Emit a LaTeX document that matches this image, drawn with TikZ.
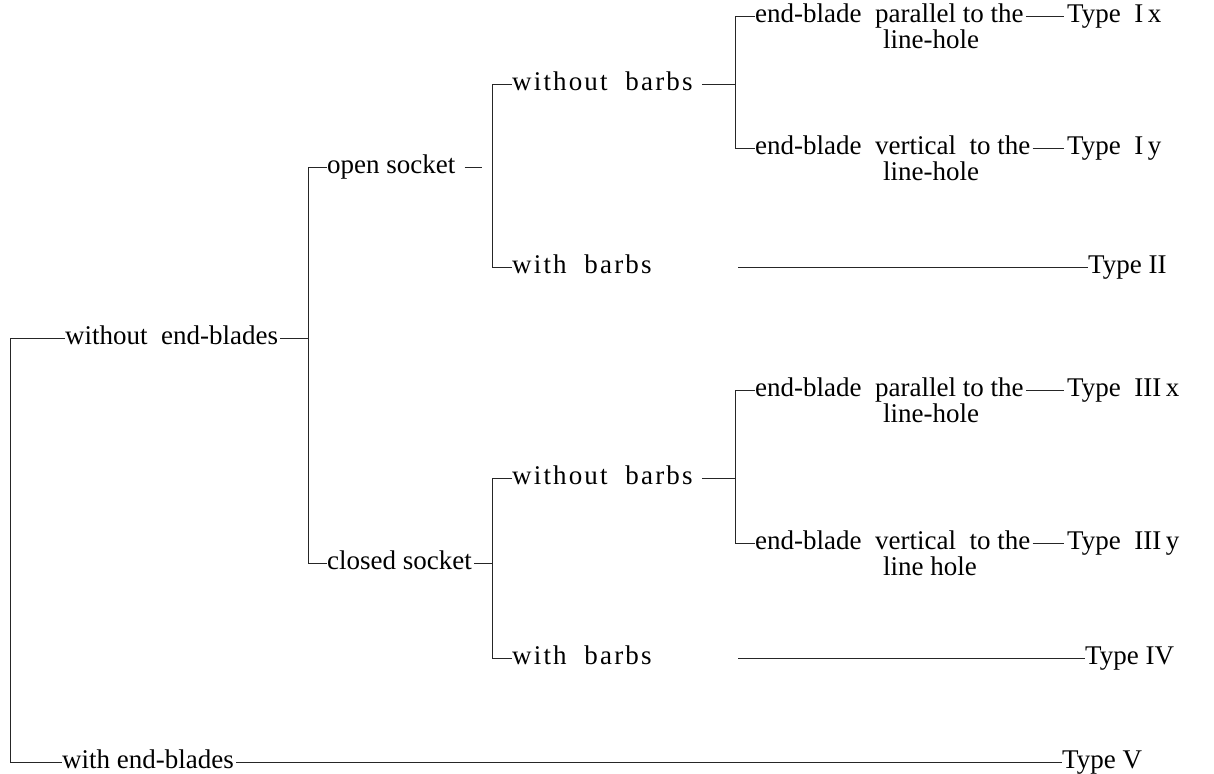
\documentclass[tikz,border=0pt]{standalone}
\usepackage{fontspec}
\setmainfont{Liberation Serif}
\newcommand{\wide}[1]{{\addfontfeature{LetterSpace=8}#1}}
\begin{document}
\begin{tikzpicture}[x=1pt,y=-1pt,
  lab/.style={inner sep=0pt, anchor=west, font=\fontsize{27}{29}\selectfont, text height=18pt, text depth=5pt},
  sub/.style={lab, text height=15pt, text depth=4pt},
  conn/.style={line width=0.85pt, draw=black!85}]
\useasboundingbox (0,0) rectangle (1214,773);
% level 1
\node[lab] (A) at (65,338) {without\ \ end-blades};
\node[lab] (W) at (62,762) {with end-blades};
\node[lab] (T5) at (1062,762) {Type V};
\coordinate (r1) at (10,338);
\coordinate (r2) at (10,762);
\draw[conn] (A.west) -- (r1) -- (r2) -- (W.west);
\draw[conn] ([xshift=2pt]W.east) -- (T5.west);
% level 2
\node[lab] (B) at (327,167) {open socket};
\node[lab] (C) at (327,563) {closed socket};
\coordinate (s1) at (308,167);
\coordinate (s2) at (308,563);
\coordinate (sm) at (308,338);
\draw[conn] ([xshift=2pt]A.east) -- (sm);
\draw[conn] (B.west) -- (s1) -- (s2) -- (C.west);
% level 3 top
\node[lab] (D) at (512,84) {\wide{without\ \ barbs}};
\node[lab] (E) at (512,267) {\wide{with\ \ barbs}};
\coordinate (b1) at (492,84);
\coordinate (b2) at (492,267);
\coordinate (bm) at (482,167);
\draw[conn] ([xshift=9pt]B.east) -- (bm);
\draw[conn] (D.west) -- (b1) -- (b2) -- (E.west);
% level 3 bottom
\node[lab] (F) at (512,478) {\wide{without\ \ barbs}};
\node[lab] (G) at (512,658) {\wide{with\ \ barbs}};
\coordinate (c1) at (492,478);
\coordinate (c2) at (492,658);
\coordinate (cm) at (492,563);
\draw[conn] ([xshift=2pt]C.east) -- (cm);
\draw[conn] (F.west) -- (c1) -- (c2) -- (G.west);
% level 4 top
\node[lab] (H1) at (755,16) {end-blade\ \ parallel to the};
\node[sub] (H1b) at (883,43) {line-hole};
\node[lab] (H2) at (755,148) {end-blade\ \ vertical\ \ to the};
\node[sub] (H2b) at (883,175) {line-hole};
\coordinate (d1) at (735,16);
\coordinate (d2) at (735,148);
\coordinate (dm) at (735,84);
\draw[conn] ([xshift=9pt]D.east) -- (dm);
\draw[conn] (H1.west) -- (d1) -- (d2) -- (H2.west);
\node[lab] (T1x) at (1067,16) {Type\ \ I\,x};
\node[lab] (T1y) at (1067,148) {Type\ \ I\,y};
\draw[conn] ([xshift=2pt]H1.east) -- ([xshift=-3pt]T1x.west);
\draw[conn] ([xshift=2pt]H2.east) -- ([xshift=-3pt]T1y.west);
\node[lab] (T2) at (1088,267) {Type II};
\coordinate (e0) at (738,267);
\draw[conn] (e0) -- (T2.west);
% level 4 bottom
\node[lab] (K1) at (755,390) {end-blade\ \ parallel to the};
\node[sub] (K1b) at (883,417) {line-hole};
\node[lab] (K2) at (755,543) {end-blade\ \ vertical\ \ to the};
\node[sub] (K2b) at (883,570) {line\ hole};
\coordinate (f1) at (735,390);
\coordinate (f2) at (735,543);
\coordinate (fm) at (735,478);
\draw[conn] ([xshift=9pt]F.east) -- (fm);
\draw[conn] (K1.west) -- (f1) -- (f2) -- (K2.west);
\node[lab] (T3x) at (1067,390) {Type\ \ III\,x};
\node[lab] (T3y) at (1067,543) {Type\ \ III\,y};
\draw[conn] ([xshift=2pt]K1.east) -- ([xshift=-3pt]T3x.west);
\draw[conn] ([xshift=2pt]K2.east) -- ([xshift=-3pt]T3y.west);
\node[lab] (T4) at (1085,658) {Type IV};
\coordinate (g0) at (738,658);
\draw[conn] (g0) -- (T4.west);
\end{tikzpicture}
\end{document}
